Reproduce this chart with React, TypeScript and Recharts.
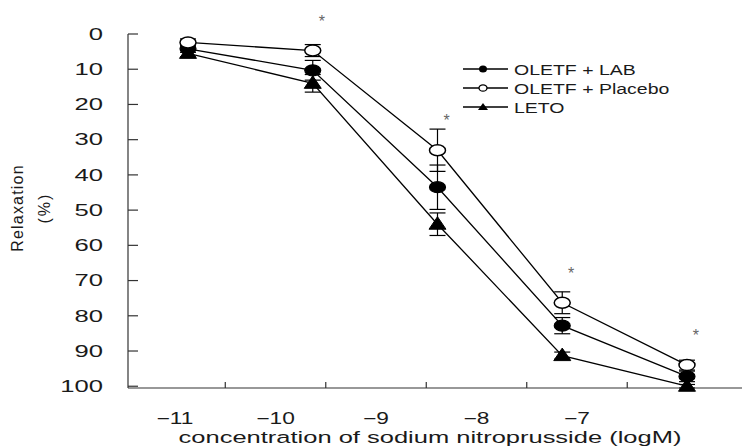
import React from "react";
import { LineChart, Line, XAxis, YAxis, ErrorBar, LabelList, Legend } from "recharts";

// log concentration of SNP (M)
const LOG_CONC = [-11, -10, -9, -8, -7];

// relaxation %, mean and error
const LAB = [4.2, 10.3, 43.5, 82.8, 97.2];
const LAB_ERR = [1, 2.8, 6.3, 2.3, 1.5];
const PLACEBO = [2.4, 4.7, 33, 76.3, 94];
const PLACEBO_ERR = [1, 1.7, 6, 3.1, 1.4];
const LETO = [5.5, 14, 54, 91.3, 100];
const LETO_ERR = [1, 2.5, 3.2, 1, 0.5];
const STARS = ["", "*", "*", "*", "*"];

const Y_TICKS = [0, 10, 20, 30, 40, 50, 60, 70, 80, 90, 100];
// labels on whole numbers, tick marks between them
const X_TICKS = [-11, -10.5, -10, -9.5, -9, -8.5, -8, -7.5, -7, -6.5];

const data = LOG_CONC.map((x, i) => ({
  x,
  lab: LAB[i],
  labErr: LAB_ERR[i],
  placebo: PLACEBO[i],
  placeboErr: PLACEBO_ERR[i],
  leto: LETO[i],
  letoErr: LETO_ERR[i],
  star: STARS[i],
}));

const FONT = "'Liberation Sans', Arial, sans-serif";
const AXIS = "#333";
const TXT = "#1a1a1a";

const fmt = (v: number) => (v < 0 ? "\u2212" + Math.abs(v) : String(v));

function FilledDot({ cx, cy }: any) {
  if (cx == null || cy == null) return <g />;
  return <ellipse cx={cx} cy={cy} rx={8} ry={5.5} fill="#000" stroke="#000" strokeWidth={1.2} />;
}
function OpenDot({ cx, cy }: any) {
  if (cx == null || cy == null) return <g />;
  return <ellipse cx={cx} cy={cy} rx={8} ry={5.5} fill="#fff" stroke="#000" strokeWidth={1.5} />;
}
function TriDot({ cx, cy }: any) {
  if (cx == null || cy == null) return <g />;
  const pts = `${cx},${cy - 7.5} ${cx - 8.5},${cy + 5} ${cx + 8.5},${cy + 5}`;
  return <polygon points={pts} fill="#000" stroke="#000" strokeWidth={1} />;
}

function XTick({ x, y, payload }: any) {
  const v = payload.value;
  if (!Number.isInteger(v)) {
    return <line x1={x} x2={x} y1={y} y2={y - 6} stroke={AXIS} strokeWidth={1.2} />;
  }
  return (
    <text
      transform={`translate(${x},${y + 35.5}) scale(1.42,1)`}
      textAnchor="middle"
      fontSize={16}
      fontFamily={FONT}
      fill={TXT}
    >
      {fmt(v)}
    </text>
  );
}

function YTick({ x, y, payload }: any) {
  return (
    <g>
      <line x1={x} x2={x + 10} y1={y} y2={y} stroke={AXIS} strokeWidth={1.2} />
      <text
        transform={`translate(${x - 25},${y + 5.8}) scale(1.6,1)`}
        textAnchor="end"
        fontSize={16}
        fontFamily={FONT}
        fill={TXT}
      >
        {payload.value}
      </text>
    </g>
  );
}

function YTitle({ viewBox }: any) {
  const cy = viewBox.y + viewBox.height / 2 - 3;
  return (
    <g fontFamily={FONT} fill={TXT} fontSize={16}>
      <text x={23} y={cy} transform={`rotate(-90,23,${cy})`} textAnchor="middle" letterSpacing={1.2}>
        Relaxation
      </text>
      <text x={49.5} y={cy} transform={`rotate(-90,49.5,${cy})`} textAnchor="middle" letterSpacing={2}>
        (%)
      </text>
    </g>
  );
}

function XTitle({ viewBox }: any) {
  const cx = viewBox.x + viewBox.width / 2 - 5;
  return (
    <text
      transform={`translate(${cx},443) scale(1.5,1)`}
      textAnchor="middle"
      fontSize={17}
      fontFamily={FONT}
      fill={TXT}
    >
      concentration of sodium nitroprusside (logM)
    </text>
  );
}

function Star(p: any) {
  if (!p.value) return <g />;
  return (
    <text x={p.x + 9} y={p.y - 24} textAnchor="middle" fontSize={16} fontFamily={FONT} fill="#666">
      {p.value}
    </text>
  );
}

const SERIES = [
  { key: "lab", name: "OLETF + LAB", marker: "filled" },
  { key: "placebo", name: "OLETF + Placebo", marker: "open" },
  { key: "leto", name: "LETO", marker: "tri" },
];

function LegendMarker({ kind, x, y }: { kind: string; x: number; y: number }) {
  if (kind === "filled") return <ellipse cx={x} cy={y} rx={4} ry={3.5} fill="#000" />;
  if (kind === "open") return <ellipse cx={x} cy={y} rx={4} ry={3.2} fill="#fff" stroke="#000" strokeWidth={1.3} />;
  return <polygon points={`${x},${y - 4} ${x - 5},${y + 3} ${x + 5},${y + 3}`} fill="#000" />;
}

function LegendBox() {
  return (
    <svg width={270} height={62}>
      {SERIES.map((s, i) => {
        const y = 11 + i * 19;
        return (
          <g key={s.key}>
            <line x1={8} x2={53} y1={y} y2={y} stroke="#000" strokeWidth={1.3} />
            <LegendMarker kind={s.marker} x={28} y={y} />
            <text
              transform={`translate(59,${y + 5.5}) scale(1.3,1)`}
              fontSize={15}
              fontFamily={FONT}
              fill={TXT}
            >
              {s.name}
            </text>
          </g>
        );
      })}
    </svg>
  );
}

export default function App() {
  return (
    <div style={{ position: "absolute", left: 0, top: 0, background: "#fff" }}>
      <LineChart width={742} height={448} data={data} margin={{ top: 34, right: 0, bottom: 0, left: 0 }}>
        <XAxis xAxisId="pts" dataKey="x" type="number" domain={[-11.481, -6.559]} hide />
        <XAxis
          xAxisId="lab"
          dataKey="x"
          type="number"
          domain={[-11.468, -5.358]}
          ticks={X_TICKS}
          interval={0}
          height={60}
          tickLine={false}
          tickSize={0}
          tickMargin={0}
          tick={<XTick />}
          axisLine={{ stroke: AXIS, strokeWidth: 1.2 }}
          label={<XTitle />}
        />
        <YAxis
          type="number"
          reversed
          domain={[0, 100]}
          ticks={Y_TICKS}
          interval={0}
          width={128}
          tickLine={false}
          tickSize={0}
          tickMargin={0}
          tick={<YTick />}
          axisLine={{ stroke: AXIS, strokeWidth: 1.2 }}
          label={<YTitle />}
        />
        <Legend
          layout="vertical"
          align="center"
          verticalAlign="middle"
          wrapperStyle={{ left: 455, top: 58, width: 270 }}
          content={<LegendBox />}
        />
        <Line
          xAxisId="pts"
          dataKey="leto"
          name="LETO"
          stroke="#000"
          strokeWidth={1.3}
          dot={<TriDot />}
          activeDot={false}
          isAnimationActive={false}
        >
          <ErrorBar dataKey="letoErr" direction="y" width={8} stroke="#000" strokeWidth={1.2} />
        </Line>
        <Line
          xAxisId="pts"
          dataKey="lab"
          name="OLETF + LAB"
          stroke="#000"
          strokeWidth={1.3}
          dot={<FilledDot />}
          activeDot={false}
          isAnimationActive={false}
        >
          <ErrorBar dataKey="labErr" direction="y" width={8} stroke="#000" strokeWidth={1.2} />
        </Line>
        <Line
          xAxisId="pts"
          dataKey="placebo"
          name="OLETF + Placebo"
          stroke="#000"
          strokeWidth={1.3}
          dot={<OpenDot />}
          activeDot={false}
          isAnimationActive={false}
        >
          <ErrorBar dataKey="placeboErr" direction="y" width={8} stroke="#000" strokeWidth={1.2} />
          <LabelList dataKey="star" content={<Star />} />
        </Line>
      </LineChart>
    </div>
  );
}
